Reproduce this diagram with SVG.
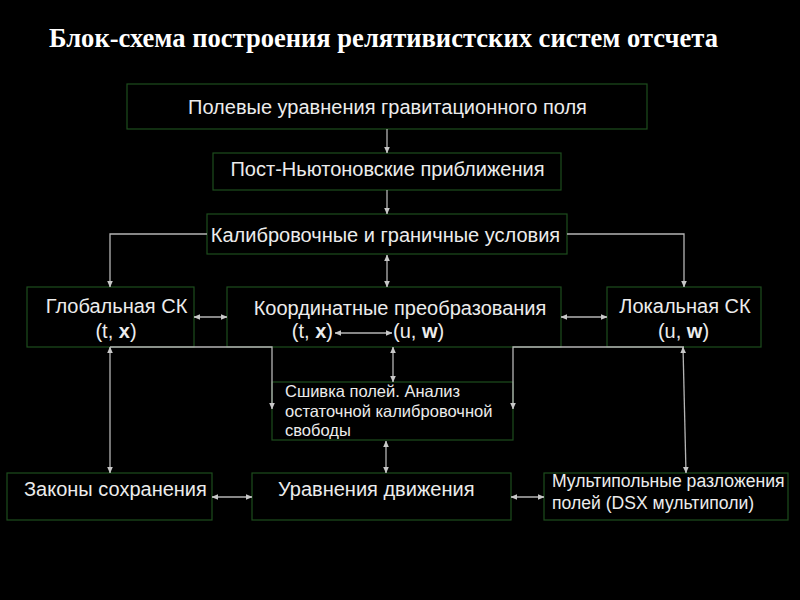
<svg xmlns="http://www.w3.org/2000/svg" width="800" height="600" viewBox="0 0 800 600">
<style>
.box{fill:none;stroke:#1d4d1d;stroke-width:1.2}
.t{font-family:"Liberation Sans",Arial,sans-serif;font-size:20px;fill:#ececec}
.s{font-size:16.5px}
.m{font-size:17.6px}
.c{fill:none;stroke:#b4b4b4;stroke-width:1.3}
.title{font-family:"Liberation Serif","Times New Roman",serif;font-weight:bold;font-size:28px;fill:#fff}
</style>
<defs>
<marker id="a" viewBox="0 0 8 8" refX="7.5" refY="4" markerWidth="5" markerHeight="5" orient="auto-start-reverse">
<path d="M0,0.5 L8,4 L0,7.5 Z" fill="#c8c8c8"/>
</marker>
</defs>
<rect width="800" height="600" fill="#000"/>
<text class="title" x="49" y="47" textLength="669" lengthAdjust="spacingAndGlyphs">Блок-схема построения релятивистских систем отсчета</text>

<g id="n1"><rect class="box" x="127" y="84" width="520" height="45"/>
<text class="t" x="387.5" y="114" text-anchor="middle">Полевые уравнения гравитационного поля</text></g>
<g id="n2"><rect class="box" x="213" y="153" width="348" height="37"/>
<text class="t" x="387.5" y="176" text-anchor="middle">Пост-Ньютоновские приближения</text></g>
<g id="n3"><rect class="box" x="207" y="214" width="360" height="40"/>
<text class="t" x="385.5" y="242" text-anchor="middle">Калибровочные и граничные условия</text></g>
<g id="n4"><rect class="box" x="27" y="287" width="167" height="60"/>
<text class="t" x="116.5" y="313" text-anchor="middle">Глобальная СК</text>
<text class="t" x="116" y="338" text-anchor="middle">(t, <tspan font-weight="bold">x</tspan>)</text></g>
<g id="n5"><rect class="box" x="227" y="287" width="334" height="60"/>
<text class="t" x="400" y="315" text-anchor="middle">Координатные преобразования</text>
<text class="t" x="333" y="338" text-anchor="end">(t, <tspan font-weight="bold">x</tspan>)</text>
<text class="t" x="393" y="338">(u, <tspan font-weight="bold">w</tspan>)</text></g>
<g id="n6"><rect class="box" x="607" y="287" width="154" height="60"/>
<text class="t" x="685" y="313" text-anchor="middle">Локальная СК</text>
<text class="t" x="683.5" y="338" text-anchor="middle">(u, <tspan font-weight="bold">w</tspan>)</text></g>
<g id="n7"><rect class="box" x="272" y="382" width="241" height="58"/>
<text class="t s" x="285" y="397">Сшивка полей. Анализ</text>
<text class="t s" x="285" y="417">остаточной калибровочной</text>
<text class="t s" x="285" y="436">свободы</text></g>
<g id="n8"><rect class="box" x="7" y="473" width="205" height="47"/>
<text class="t" x="24" y="496">Законы сохранения</text></g>
<g id="n9"><rect class="box" x="252" y="473" width="259" height="47"/>
<text class="t" x="278" y="496">Уравнения движения</text></g>
<g id="n10"><rect class="box" x="544" y="473" width="244" height="47"/>
<text class="t m" x="552" y="487">Мультипольные разложения</text>
<text class="t m" x="552" y="509">полей (DSX мультиполи)</text></g>

<g id="connectors">
<line class="c" x1="387" y1="129" x2="387" y2="153" marker-end="url(#a)"/>
<line class="c" x1="387" y1="190" x2="387" y2="214" marker-end="url(#a)"/>
<line class="c" x1="387" y1="255" x2="387" y2="287" marker-start="url(#a)" marker-end="url(#a)"/>
<polyline class="c" points="207,234 110,234 110,287" marker-end="url(#a)"/>
<polyline class="c" points="567,234 684,234 684,287" marker-end="url(#a)"/>
<line class="c" x1="194" y1="317" x2="227" y2="317" marker-start="url(#a)" marker-end="url(#a)"/>
<line class="c" x1="561" y1="317" x2="607" y2="317" marker-start="url(#a)" marker-end="url(#a)"/>
<line class="c" x1="335" y1="333" x2="392" y2="333" marker-start="url(#a)" marker-end="url(#a)"/>
<polyline class="c" points="110,347 272,347 272,409" marker-end="url(#a)"/>
<polyline class="c" points="684,347 513,347 513,409" marker-end="url(#a)"/>
<line class="c" x1="393" y1="347" x2="393" y2="382" marker-start="url(#a)" marker-end="url(#a)"/>
<line class="c" x1="386" y1="441" x2="386" y2="473" marker-start="url(#a)" marker-end="url(#a)"/>
<line class="c" x1="110" y1="347" x2="110" y2="473" marker-start="url(#a)" marker-end="url(#a)"/>
<line class="c" x1="683" y1="347" x2="686" y2="473" marker-start="url(#a)" marker-end="url(#a)"/>
<line class="c" x1="212" y1="497" x2="252" y2="497" marker-start="url(#a)" marker-end="url(#a)"/>
<line class="c" x1="511" y1="497" x2="544" y2="497" marker-start="url(#a)" marker-end="url(#a)"/>
</g>
</svg>
